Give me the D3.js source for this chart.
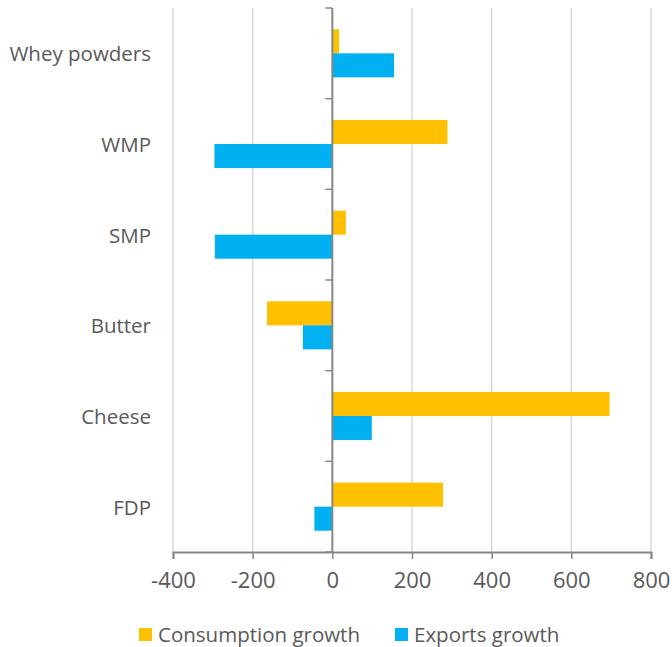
<!DOCTYPE html>
<html>
<head>
<meta charset="utf-8">
<script src="https://cdn.jsdelivr.net/npm/d3@7"></script>
<style>
  html, body { margin: 0; padding: 0; background: #fff; }
  svg text { font-family: "Open Sans", "Noto Sans", sans-serif; fill: #595959; }
</style>
</head>
<body>
<svg id="chart" width="672" height="647"></svg>
<script>
// Dairy products, growth figures
const categories = ["Whey powders", "WMP", "SMP", "Butter", "Cheese", "FDP"];
const consumptionGrowth = [17, 289, 34, -164, 696, 278];
const exportsGrowth = [155, -296, -295, -74, 99, -45];
const seriesNames = ["Consumption growth", "Exports growth"];
const seriesColors = ["#FFC000", "#00B0F0"];
const xTicks = [-400, -200, 0, 200, 400, 600, 800];

const svg = d3.select("#chart");
const margin = { top: 8, right: 21, bottom: 95, left: 173 };
const W = 672, H = 647;
const innerW = W - margin.left - margin.right;
const innerH = H - margin.top - margin.bottom;

const g = svg.append("g").attr("transform", `translate(${margin.left},${margin.top})`);

const x = d3.scaleLinear().domain([-400, 800]).range([0, innerW]);
const y = d3.scaleBand().domain(categories).range([0, innerH]).paddingInner(0.47).paddingOuter(0.235);
const ySub = d3.scaleBand().domain([0, 1]).range([0, y.bandwidth()]);

// vertical gridlines
g.append("g").selectAll("line").data(xTicks.filter(t => t !== 0)).join("line")
  .attr("x1", d => x(d)).attr("x2", d => x(d))
  .attr("y1", 0).attr("y2", innerH)
  .attr("stroke", "#d9d9d9").attr("stroke-width", 1.5);

// bars
const rows = categories.map((c, i) => ({ c, vals: [consumptionGrowth[i], exportsGrowth[i]] }));
rows.forEach(r => {
  r.vals.forEach((v, k) => {
    g.append("rect")
      .attr("x", x(Math.min(0, v)))
      .attr("width", Math.abs(x(v) - x(0)))
      .attr("y", y(r.c) + ySub(k))
      .attr("height", ySub.bandwidth())
      .attr("fill", seriesColors[k]);
  });
});

// bottom axis
const xAxis = g.append("g").attr("transform", `translate(0,${innerH})`)
  .call(d3.axisBottom(x).tickValues(xTicks).tickSize(7)
    .tickFormat(d => String(d)));
xAxis.select(".domain").attr("stroke", "#868686").attr("stroke-width", 2);
xAxis.selectAll(".tick line").attr("stroke", "#868686").attr("stroke-width", 1.5);
xAxis.selectAll("text")
  .attr("y", 36).attr("dy", null)
  .attr("font-size", 22).attr("fill", "#595959")
  .style("font-family", "'Open Sans', 'Noto Sans', sans-serif");

// category axis at zero
const boundaries = d3.range(categories.length + 1).map(i => i * innerH / categories.length);
const zeroAxis = g.append("g").attr("transform", `translate(${x(0)},0)`);
zeroAxis.append("line").attr("y1", 0).attr("y2", innerH)
  .attr("stroke", "#868686").attr("stroke-width", 2);
zeroAxis.selectAll(".cat-tick").data(boundaries).join("line")
  .attr("class", "cat-tick")
  .attr("x1", -7).attr("x2", 0)
  .attr("y1", d => d).attr("y2", d => d)
  .attr("stroke", "#868686").attr("stroke-width", 1.5);

// category labels on the left
g.append("g").selectAll("text").data(categories).join("text")
  .attr("x", -22)
  .attr("y", d => y(d) + y.bandwidth() / 2)
  .attr("text-anchor", "end")
  .attr("dominant-baseline", "central")
  .attr("font-size", 20.5)
  .text(d => d);

// legend
const legend = svg.append("g").attr("transform", "translate(0,633)");
const legendX = [139, 395];
seriesNames.forEach((name, i) => {
  legend.append("rect").attr("x", legendX[i]).attr("y", -5).attr("width", 13).attr("height", 13)
    .attr("fill", seriesColors[i]);
  legend.append("text").attr("x", legendX[i] + 19).attr("y", 1)
    .attr("dominant-baseline", "central").attr("font-size", 20.5).text(name);
});
</script>
</body>
</html>
